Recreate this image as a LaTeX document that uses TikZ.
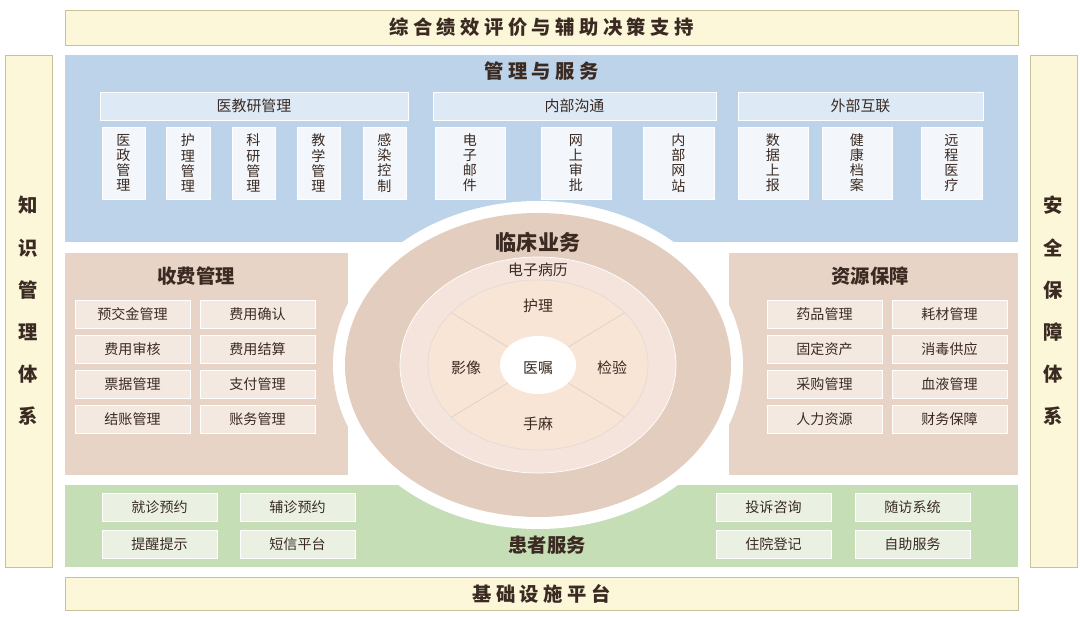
\documentclass[tikz,border=0pt]{standalone}
\usepackage{fontspec}
\setmainfont{Noto Sans CJK SC}
\usepackage{tikz}
\usetikzlibrary{calc}
\usepackage{xcolor}
\definecolor{barY}{HTML}{FBF7D8}
\definecolor{lineY}{HTML}{C8C29C}
\definecolor{panelB}{HTML}{BDD3E9}
\definecolor{headB}{HTML}{DDEAF6}
\definecolor{boxB}{HTML}{F3F7FB}
\definecolor{panelT}{HTML}{E7D4C6}
\definecolor{boxT}{HTML}{F4E9E1}
\definecolor{ringA}{HTML}{E3CDBE}
\definecolor{ringB}{HTML}{F5E4DC}
\definecolor{ringC}{HTML}{F9E5D6}
\definecolor{panelG}{HTML}{C6DEB5}
\definecolor{boxG}{HTML}{EAF1E3}
\definecolor{txt}{HTML}{3A2A22}
\tikzset{
  bar/.style={draw=lineY,fill=barY,inner sep=0pt,font=\fontsize{11}{12}\selectfont\bfseries,text=txt},
  head/.style={draw=white,fill=headB,minimum height=0.56cm,inner sep=0pt,font=\fontsize{8.5}{9}\selectfont,text=txt},
  vbox/.style={draw=white,fill=boxB,minimum height=1.44cm,inner sep=0pt,align=center,font=\fontsize{8}{8.6}\selectfont,text=txt},
  btn/.style={draw=white,fill=#1,minimum width=2.3cm,minimum height=0.56cm,inner sep=0pt,font=\fontsize{8}{9}\selectfont,text=txt},
  title/.style={font=\fontsize{11}{12}\selectfont\bfseries,text=txt},
  lbl/.style={font=\fontsize{8.5}{9}\selectfont,text=txt}
}
\begin{document}
\begin{tikzpicture}[x=0.02cm,y=-0.02cm]
\useasboundingbox (0,0) rectangle (1080,617);
% outer frame
\node[bar,minimum width=19.06cm,minimum height=0.7cm] (perf) at (541.5,27.5) {综\ 合\ 绩\ 效\ 评\ 价\ 与\ 辅\ 助\ 决\ 策\ 支\ 持};
\node[bar,minimum width=19.06cm,minimum height=0.66cm] (infra) at (541.5,593.5) {基\ 础\ 设\ 施\ 平\ 台};
\node[bar,minimum width=0.94cm,minimum height=10.24cm,align=center,font=\fontsize{11}{24}\selectfont\bfseries] (know) at (28.5,311) {知\\识\\管\\理\\体\\系};
\node[bar,minimum width=0.94cm,minimum height=10.24cm,align=center,font=\fontsize{11}{24}\selectfont\bfseries] (safe) at (1053.5,311) {安\\全\\保\\障\\体\\系};
% panels
\fill[panelB] (65,55) rectangle (1018,242);
\fill[panelT] (65,253) rectangle (348,475);
\fill[panelT] (729,253) rectangle (1018,475);
\fill[panelG] (65,485) rectangle (1018,567);
% management and service
\node[title] (mgmt) at (541.5,71) {管\ 理\ 与\ 服\ 务};
\node[head,minimum width=6.16cm] (edu) at (254,106) {医教研管理};
\node[head,minimum width=5.66cm] (inner) at (574.5,106) {内部沟通};
\node[head,minimum width=4.9cm] (outer) at (860.5,106) {外部互联};
\foreach \x/\w/\t [count=\i] in {123.5/43/医\\政\\管\\理,188/44/护\\理\\管\\理,253.5/43/科\\研\\管\\理,318.5/43/教\\学\\管\\理,384.5/43/感\\染\\控\\制,470/70/电\\子\\邮\\件,576/70/网\\上\\审\\批,678.5/71/内\\部\\网\\站,773/70/数\\据\\上\\报,857/70/健\\康\\档\\案,951.5/61/远\\程\\医\\疗}
  \node[vbox,minimum width=\w*0.02cm] (m\i) at (\x,163) {\t};
% clinical ellipse
\coordinate (c) at (538,365);
\fill[white] (c) ellipse (205 and 164);
\fill[ringA] (c) ellipse (193 and 152);
\fill[ringB,draw=white] (c) ellipse (138 and 108);
\fill[ringC,draw=ringA!80!black!40] (c) ellipse (110 and 85);
\foreach \a in {38,142,218,322}
  \draw[ringA!80!black!50] ($(c)+(\a:38 and 29)$) -- ($(c)+(\a:110 and 85)$);
\fill[white] (c) ellipse (38 and 29);
\node[title,font=\fontsize{12}{13}\selectfont\bfseries] (clin) at (538,242) {临床业务};
\node[lbl] (emr) at (538,270) {电子病历};
\node[lbl] (nurse) at (538,306) {护理};
\node[lbl] (img) at (466,368) {影像};
\node[lbl] (lab) at (612,368) {检验};
\node[lbl] (order) at (538,368) {医嘱};
\node[lbl] (anes) at (538,424) {手麻};
% billing
\node[title] (bill) at (196,276) {收费管理};
\foreach \t/\x/\y [count=\i] in {预交金管理/132.5/314,费用确认/257.5/314,费用审核/132.5/349,费用结算/257.5/349,票据管理/132.5/384,支付管理/257.5/384,结账管理/132.5/419,账务管理/257.5/419}
  \node[btn=boxT] (b\i) at (\x,\y) {\t};
% resources
\node[title] (res) at (870,276) {资源保障};
\foreach \t/\x/\y [count=\i] in {药品管理/824.5/314,耗材管理/949.5/314,固定资产/824.5/349,消毒供应/949.5/349,采购管理/824.5/384,血液管理/949.5/384,人力资源/824.5/419,财务保障/949.5/419}
  \node[btn=boxT] (r\i) at (\x,\y) {\t};
% patient service
\node[title] (pat) at (547,545) {患者服务};
\foreach \t/\x/\y [count=\i] in {就诊预约/159.5/507,辅诊预约/297.5/507,提醒提示/159.5/544,短信平台/297.5/544,投诉咨询/773.5/507,随访系统/912.5/507,住院登记/773.5/544,自助服务/912.5/544}
  \node[btn=boxG] (p\i) at (\x,\y) {\t};
\end{tikzpicture}
\end{document}
